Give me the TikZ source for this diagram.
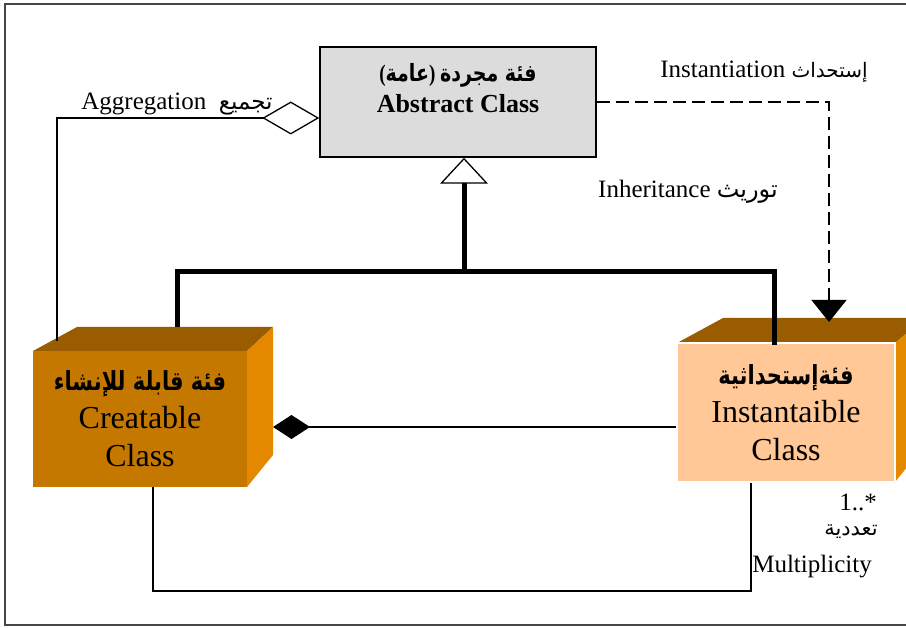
\documentclass[tikz,border=0pt]{standalone}
\usepackage{fontspec}
\setmainfont{Liberation Serif}
\newfontfamily\arabicfont[Script=Arabic]{DejaVu Sans}
\TeXXeTstate=1
\usetikzlibrary{arrows.meta}

\definecolor{crefront}{RGB}{196,120,0}
\definecolor{boxtop}{RGB}{153,92,0}
\definecolor{boxside}{RGB}{228,136,0}
\definecolor{insfront}{RGB}{255,200,150}
\definecolor{absfill}{RGB}{220,220,220}
\definecolor{framegray}{RGB}{70,70,70}

% Arabic run, right to left
\newcommand\artext[1]{{\arabicfont\beginR #1\endR}}
% Arabic run at a given size
\newcommand\arsized[2]{{\fontsize{#1}{#1}\selectfont\artext{#2}}}
% bold Arabic title line, slightly taller than wide
\newcommand\artitle[2]{\scalebox{1}[1.25]{\fontsize{#1}{#1}\selectfont\bfseries#2}}

\begin{document}
\begin{tikzpicture}[x=1pt,y=-1pt,
  link/.style={line width=1.3pt},
  heavy/.style={line width=5pt},
  dashlink/.style={line width=1.3pt, dash pattern=on 13pt off 6pt},
  lbl/.style={inner sep=0pt, font=\fontsize{25}{30}\selectfont},
  boxtext/.style={inner sep=0pt, align=center, font=\fontsize{32}{38}\selectfont}
]
\useasboundingbox (0,0) rectangle (906,628);
\draw[framegray, line width=2pt] (5,4) rectangle (925,625);

% abstract class
\node[draw, line width=1.5pt, fill=absfill, minimum width=276pt,
      minimum height=110pt, inner sep=0pt] (abs) at (458,102) {};
\node[inner sep=0pt, align=center, font=\fontsize{26}{31}\selectfont\bfseries]
  (abslbl) at (458,88)
  {\artitle{19}{(\artext{عامة}) \artext{فئة مجردة}}\\Abstract Class};

% creatable class (3D box)
\fill[boxtop] (33,351) -- (77,327) -- (273,327) -- (247,351) -- cycle;
\fill[boxside] (247,351) -- (273,327) -- (273,455) -- (247,487) -- cycle;
\node[fill=crefront, minimum width=214pt, minimum height=136pt, boxtext]
  (cre) at (140,419)
  {\artitle{21}{\artext{فئة قابلة للإنشاء}}\\Creatable\\Class};

% instantiable class (3D box)
\fill[boxtop] (677,343) -- (723,318) -- (925,318) -- (895,343) -- cycle;
\fill[boxside] (895,343) -- (925,318) -- (925,445) -- (895,482) -- cycle;
\node[fill=insfront, draw=white, line width=1.5pt, minimum width=218pt,
      minimum height=139pt, boxtext]
  (ins) at (786,412.5)
  {\artitle{21}{\artext{فئةإستحداثية}}\\Instantaible\\Class};

% connector end points
\coordinate (j) at (464,272);
\coordinate (creinh) at (177,327);
\coordinate (insinh) at (774,345);
\coordinate (creagg) at (57,341);
\coordinate (instip) at (829,322);
\coordinate (creside) at (273,427);
\coordinate (mbot) at (153,591);

% inheritance
\draw[heavy] (creinh) |- (j) -| (insinh);
\draw[heavy, -{Triangle[open, length=26pt, width=48pt, line width=1.3pt 0 1]}]
  (j) -- (j |- abs.south);

% aggregation
\draw[link, -{Diamond[open, length=57pt, width=33pt, line width=1.3pt 0 1]}]
  (creagg) |- (abs.west |- 0,118);

% instantiation
\draw[dashlink, -{Triangle[length=22pt, width=35pt]}] (abs.east) -| (instip);

% composition
\draw[link, -{Diamond[length=37pt, width=24pt]}] (ins.west |- creside) -- (creside);

% multiplicity
\draw[link] (cre.south -| mbot) -- (mbot) -| (ins.south -| 751,0);

% labels
\node[lbl] (agglbl) at (177,104) {Aggregation \ \arsized{23}{تجميع}};
\node[lbl] (instlbl) at (764,72) {Instantiation \arsized{20}{إستحداث}};
\node[lbl] (inhlbl) at (688,192) {Inheritance \arsized{24}{توريث}};
\node[lbl] (multnum) at (858,502) {1..*};
\node[inner sep=0pt] (multar) at (851,532) {\arsized{21}{تعددية}};
\node[lbl] (multlbl) at (812,567) {Multiplicity};
\end{tikzpicture}
\end{document}
